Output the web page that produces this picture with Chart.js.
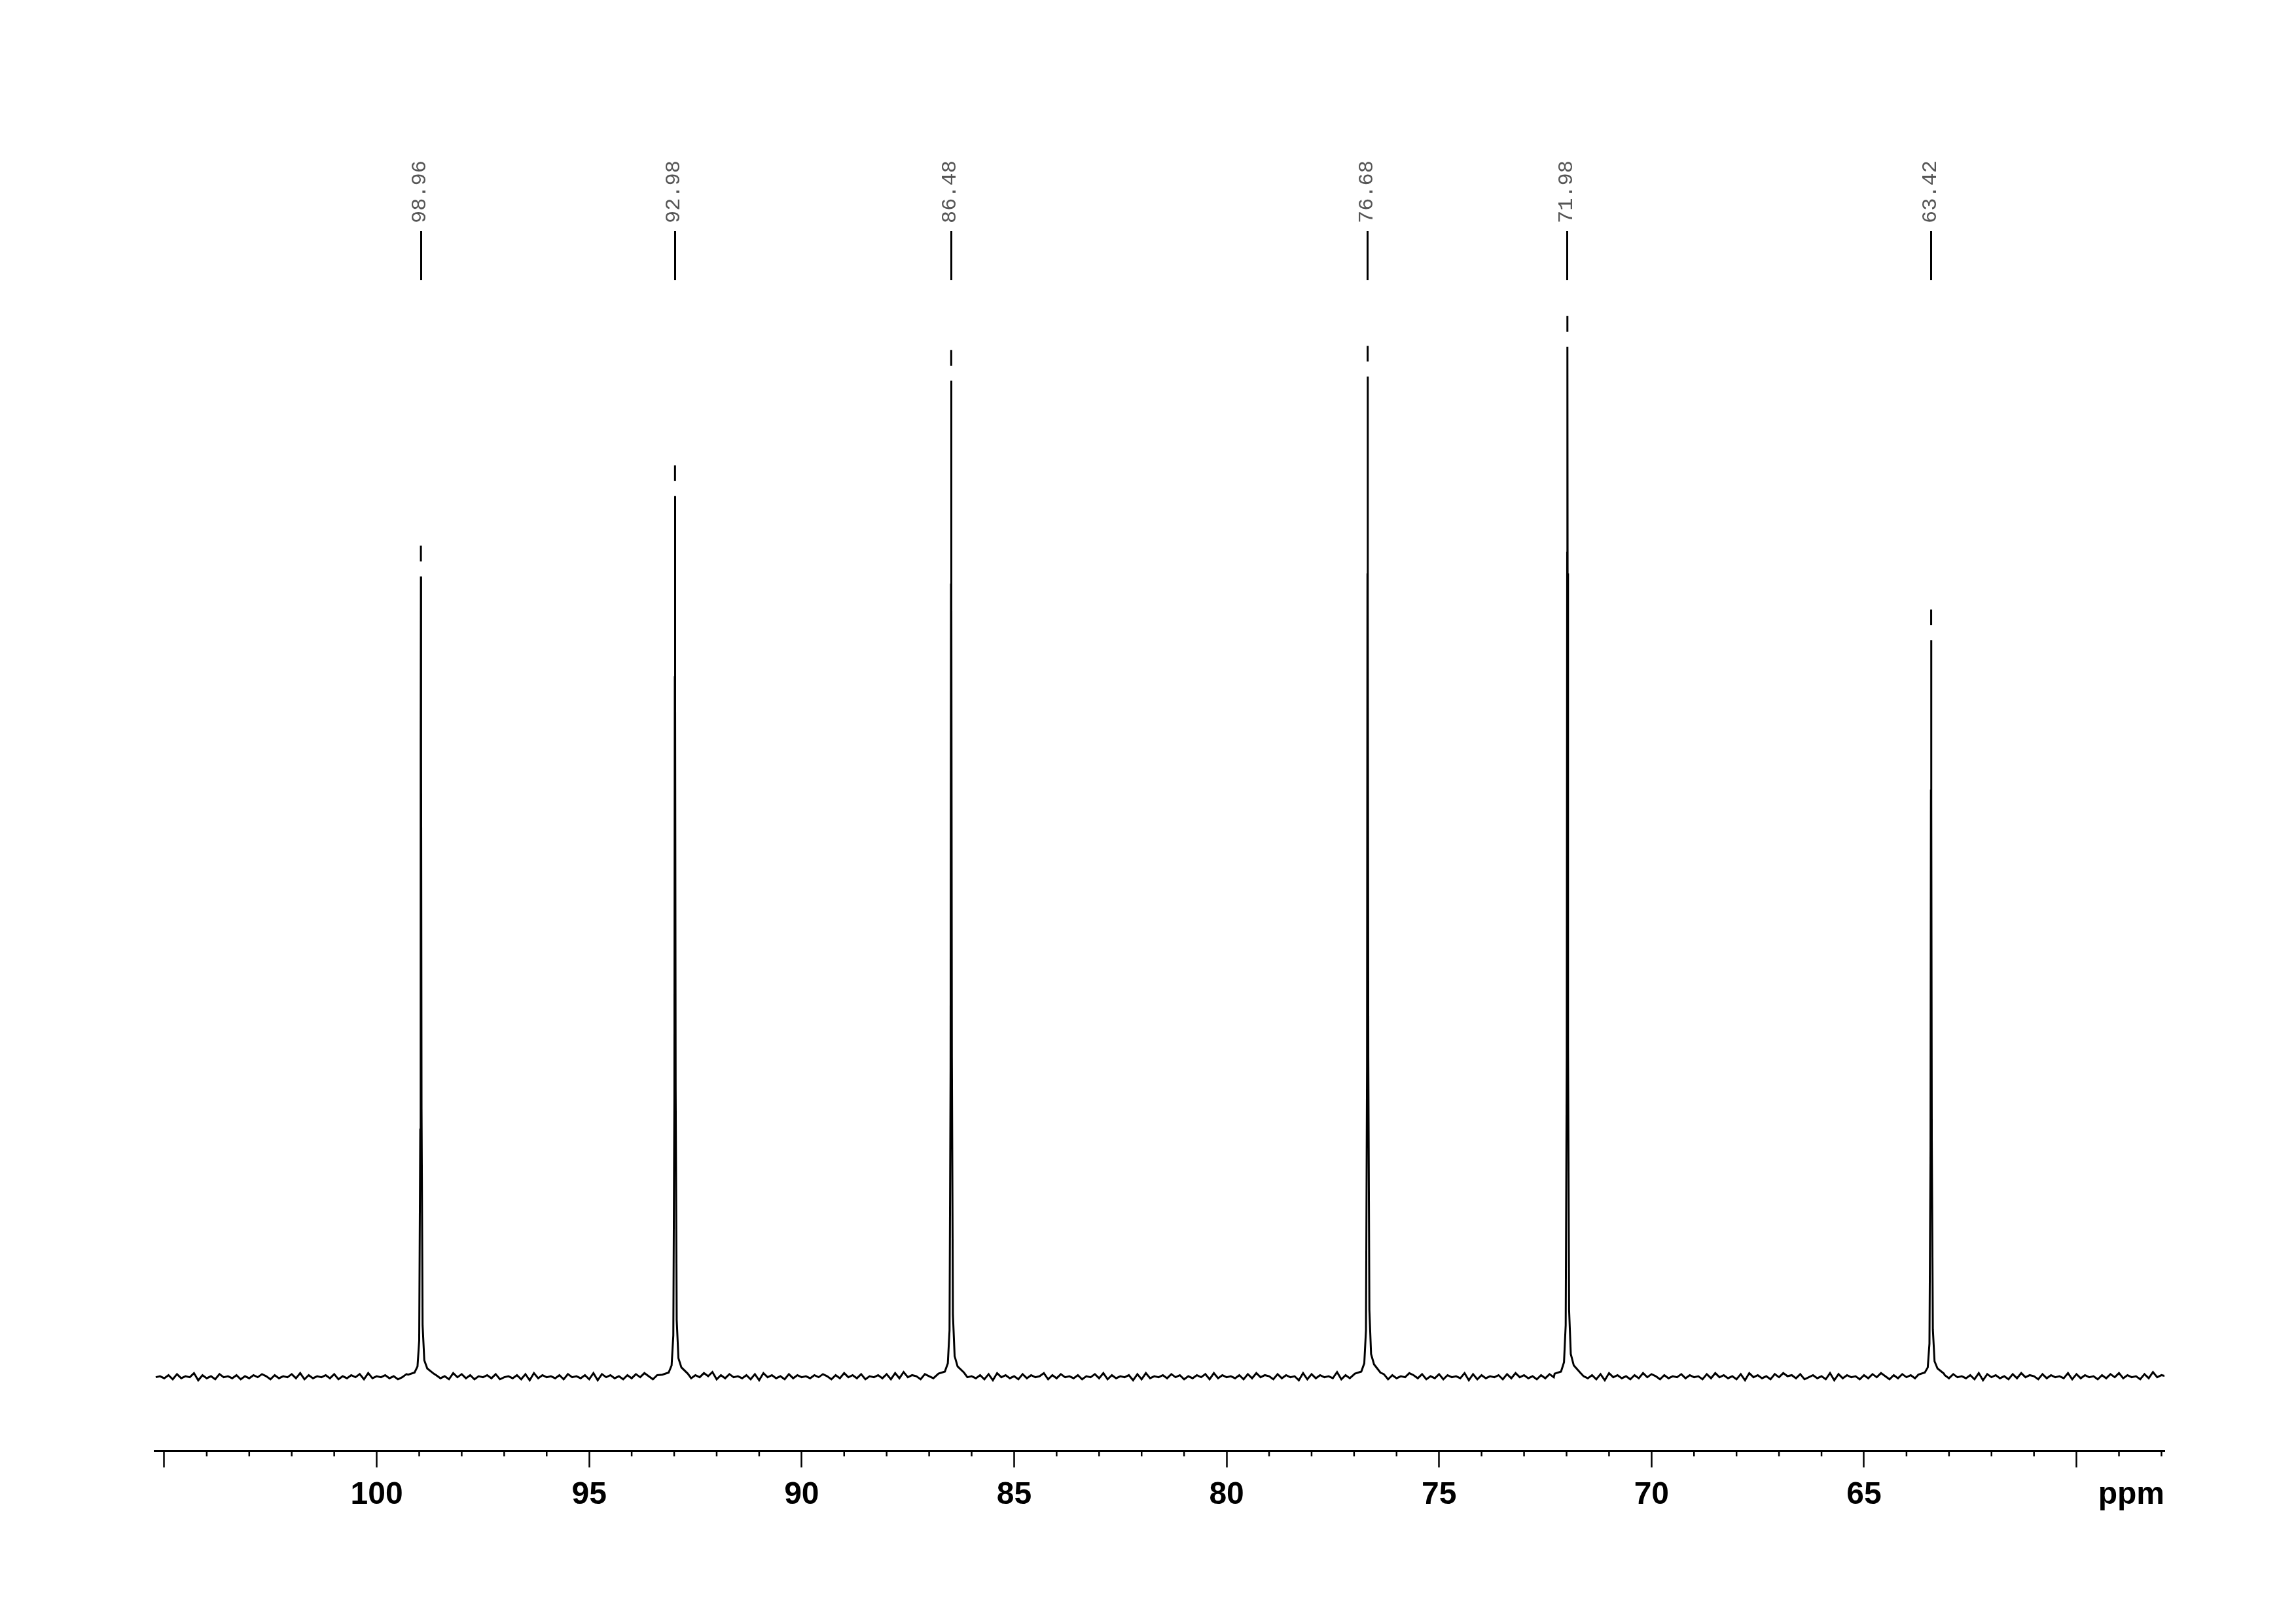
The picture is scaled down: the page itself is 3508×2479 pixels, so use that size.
<!DOCTYPE html>
<html>
<head>
<meta charset="utf-8">
<script src="https://cdn.jsdelivr.net/npm/chart.js@4.4.1/dist/chart.umd.min.js"></script>
<style>
  body { margin: 0; background: #fff; }
  canvas { display: block; }
</style>
</head>
<body>
<canvas id="spectrum" width="3508" height="2479"></canvas>
<script>
// picked peaks (ppm) and their heights (tallest = 100)
const peakPpm = [98.96, 92.98, 86.48, 76.68, 71.98, 63.42];
const peakHeight = [77.7, 85.5, 96.7, 97.1, 100, 71.5];

// line shape around each peak (offset in ppm -> intensity)
const lineOffsets = [0.3, 0.15, 0.08, 0.04, 0.015, 0.005, 0, -0.005, -0.015, -0.04, -0.08, -0.15, -0.3];
const lineProfiles = [
  [0.2, 0.4, 1.0, 3.5, 24, 62, 77.7, 60, 26, 5.0, 1.6, 0.8, 0.3],
  [0.2, 0.4, 1.1, 4.0, 27, 68, 85.5, 66, 28, 5.5, 1.8, 0.9, 0.3],
  [0.3, 0.5, 1.3, 4.5, 30, 77, 96.7, 75, 31, 6.0, 2.0, 1.0, 0.4],
  [0.3, 0.5, 1.3, 4.5, 30, 78, 97.1, 76, 31, 6.5, 2.2, 1.2, 0.4],
  [0.3, 0.5, 1.4, 5.0, 31, 80, 100, 78, 32, 6.5, 2.2, 1.1, 0.4],
  [0.2, 0.4, 0.9, 3.2, 22, 57, 71.5, 56, 23, 4.6, 1.5, 0.8, 0.3]
];

// baseline noise, one digit every 0.1 ppm from 105.2 ppm (4.5 = zero)
const baseNoise =
  "453627354816352745362536475263547382635463725364728354635247" +
  "536274635284736254637245362718364536274536281746352637485263" +
  "364527364859263745362718463527364536475263846372546372839465" +
  "275364827364536271846352736458263745362547382635461728354637" +
  "462536472836453627384652736451827364539263748536472635486372" +
  "537264538172635462738463526374829364536271846352638475263547" +
  "364527384635271846352748563724635281736452637485263746352847" +
  "263745362817463527384652736453827364526374836452739465283746";
const noiseStart = 105.2, noiseStep = 0.1, noiseUnit = 0.1;

const xMin = 57.93, xMax = 105.23;
const yMin = -7.22, yMax = 106.46;
const markerGap = 2.22;      // dash drawn above each peak top
const minorTickLen = 8;

const spectrum = [];
for (let i = 0; i < baseNoise.length; i++) {
  const ppm = noiseStart - i * noiseStep;
  if (ppm < xMin - 0.1) break;
  if (peakPpm.some(p => Math.abs(ppm - p) < 0.32)) continue;
  spectrum.push({ x: ppm, y: (baseNoise.charCodeAt(i) - 48 - 4.5) * noiseUnit });
}
peakPpm.forEach((p, k) => {
  lineOffsets.forEach((d, j) => spectrum.push({ x: p + d, y: lineProfiles[k][j] }));
});
spectrum.sort((a, b) => b.x - a.x);

const markers = peakPpm.map((p, i) => ({ x: p, y: peakHeight[i] + markerGap }));

Chart.defaults.font.family = '"Liberation Sans", Arial, sans-serif';
Chart.defaults.color = '#000';

const axisExtras = {
  id: 'axisExtras',
  afterDraw(chart) {
    const s = chart.scales.x;
    const c = chart.ctx;
    c.save();
    c.strokeStyle = '#000';
    c.lineWidth = 2.5;
    s.ticks.forEach(t => {
      if (t.value % 5 === 0) return;
      const px = s.getPixelForValue(t.value);
      c.beginPath();
      c.moveTo(px, s.top);
      c.lineTo(px, s.top + minorTickLen);
      c.stroke();
    });
    const o = s.options;
    c.fillStyle = '#000';
    c.font = 'bold 48px "Liberation Sans", Arial, sans-serif';
    c.textAlign = 'right';
    c.textBaseline = 'middle';
    c.fillText('ppm', s.right, s.top + o.grid.tickLength + o.ticks.padding + 48 * 1.2 / 2);
    c.restore();
  }
};

new Chart(document.getElementById('spectrum'), {
  type: 'scatter',
  data: {
    datasets: [
      {
        data: spectrum,
        showLine: true,
        borderColor: '#000',
        borderWidth: 3,
        pointRadius: 0,
        tension: 0
      },
      {
        data: markers,
        showLine: false,
        pointStyle: 'line',
        rotation: 90,
        pointRadius: 12,
        borderWidth: 3,
        borderColor: '#000'
      }
    ]
  },
  options: {
    responsive: false,
    animation: false,
    events: [],
    layout: { padding: { top: 233, bottom: 152, left: 236, right: 201 } },
    plugins: { legend: { display: false }, tooltip: { enabled: false } },
    scales: {
      x: {
        type: 'linear',
        position: 'bottom',
        reverse: true,
        min: xMin,
        max: xMax,
        border: { display: true, color: '#000', width: 3 },
        grid: {
          drawOnChartArea: false,
          tickLength: 25,
          tickWidth: 2.5,
          tickColor: ctx => (ctx.tick && ctx.tick.value % 5 === 0) ? '#000' : 'rgba(0,0,0,0)'
        },
        ticks: {
          stepSize: 1,
          autoSkip: false,
          includeBounds: false,
          maxRotation: 0,
          padding: 14,
          color: '#000',
          font: { size: 48, weight: 'bold' },
          callback: v => (v % 5 === 0 && v <= 100 && v >= 65) ? String(v) : ''
        }
      },
      x2: {
        type: 'linear',
        position: 'top',
        reverse: true,
        min: xMin,
        max: xMax,
        afterBuildTicks: axis => { axis.ticks = peakPpm.map(v => ({ value: v })); },
        border: { display: false },
        grid: { drawOnChartArea: false, tickLength: 75, tickWidth: 3, tickColor: '#000' },
        ticks: {
          autoSkip: false,
          minRotation: 90,
          maxRotation: 90,
          padding: 12,
          labelOffset: 37,
          color: '#555',
          font: { family: '"Liberation Mono", "DejaVu Sans Mono", monospace', size: 32 },
          callback: v => v.toFixed(2)
        }
      },
      y: {
        display: false,
        min: yMin,
        max: yMax
      }
    }
  },
  plugins: [axisExtras]
});
</script>
</body>
</html>
